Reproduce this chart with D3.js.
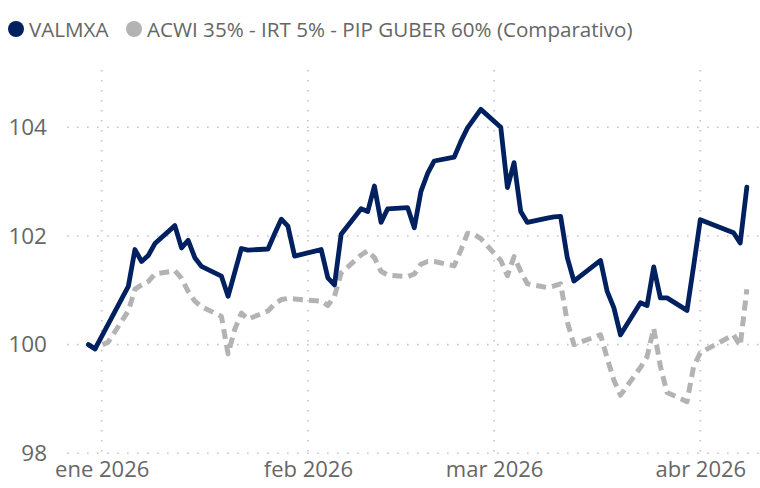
<!DOCTYPE html>
<html>
<head>
<meta charset="utf-8">
<script src="https://cdn.jsdelivr.net/npm/d3@7"></script>
<style>
  body { margin: 0; background: #fff; }
  svg { display: block; font-family: "Segoe UI", "Open Sans", sans-serif; }
  .tick text { fill: #666; }
</style>
</head>
<body>
<div class="chart"></div>
<script>
var svgWidth = 760;
var svgHeight = 488;

// business days shown on the chart
var dates = [
  "2025-12-30", "2025-12-31", "2026-01-02", "2026-01-05", "2026-01-06", "2026-01-07", "2026-01-08", "2026-01-09",
  "2026-01-12", "2026-01-13", "2026-01-14", "2026-01-15", "2026-01-16", "2026-01-19", "2026-01-20", "2026-01-21",
  "2026-01-22", "2026-01-23", "2026-01-26", "2026-01-27", "2026-01-28", "2026-01-29", "2026-01-30", "2026-02-03",
  "2026-02-04", "2026-02-05", "2026-02-06", "2026-02-09", "2026-02-10", "2026-02-11", "2026-02-12", "2026-02-13",
  "2026-02-16", "2026-02-17", "2026-02-18", "2026-02-19", "2026-02-20", "2026-02-23", "2026-02-24", "2026-02-25",
  "2026-02-26", "2026-02-27", "2026-03-02", "2026-03-03", "2026-03-04", "2026-03-05", "2026-03-06", "2026-03-09",
  "2026-03-10", "2026-03-11", "2026-03-12", "2026-03-13", "2026-03-17", "2026-03-18", "2026-03-19", "2026-03-20",
  "2026-03-23", "2026-03-24", "2026-03-25", "2026-03-26", "2026-03-27", "2026-03-30", "2026-03-31", "2026-04-01",
  "2026-04-06", "2026-04-07", "2026-04-08"
];

var valmxa = [
  100.00, 99.92, 100.38, 101.07, 101.75, 101.53, 101.64, 101.86,
  102.19, 101.78, 101.92, 101.60, 101.44, 101.26, 100.89, 101.33,
  101.77, 101.74, 101.76, 102.04, 102.31, 102.18, 101.63, 101.75,
  101.23, 101.10, 102.03, 102.50, 102.45, 102.92, 102.25, 102.50,
  102.52, 102.15, 102.82, 103.15, 103.38, 103.45, 103.74, 103.99,
  104.16, 104.33, 104.00, 102.89, 103.35, 102.45, 102.25, 102.33,
  102.35, 102.36, 101.60, 101.17, 101.55, 100.98, 100.68, 100.18,
  100.77, 100.72, 101.43, 100.86, 100.86, 100.63, 101.45, 102.30,
  102.06, 101.87, 102.90
];

var comparativo = [
  100.00, 99.93, 100.05, 100.62, 101.02, 101.10, 101.16, 101.30,
  101.36, 101.22, 100.98, 100.80, 100.70, 100.52, 99.83, 100.28,
  100.58, 100.47, 100.62, 100.75, 100.83, 100.85, 100.84, 100.80,
  100.72, 100.89, 101.32, 101.65, 101.73, 101.60, 101.35, 101.28,
  101.25, 101.30, 101.48, 101.53, 101.53, 101.45, 101.74, 102.05,
  102.03, 101.95, 101.55, 101.27, 101.62, 101.35, 101.12, 101.05,
  101.08, 101.12, 100.42, 100.00, 100.18, 99.75, 99.35, 99.07,
  99.58, 99.78, 100.30, 99.60, 99.12, 98.95, 99.60, 99.85,
  100.18, 99.98, 101.02
];

var seriesNames = ["VALMXA", "ACWI 35% - IRT 5% - PIP GUBER 60% (Comparativo)"];
var yTicks = [98, 100, 102, 104];
var monthLabels = ["ene 2026", "feb 2026", "mar 2026", "abr 2026"];

var parseDate = d3.timeParse("%Y-%m-%d");
var monthStarts = d3.timeMonth.range(new Date(2026, 0, 1), new Date(2026, 4, 1));

var plot = { left: 67, right: 760, top: 70, bottom: 456 };

var xScale = d3.scaleTime()
  .domain([new Date(2026, 0, 1), new Date(2026, 3, 1)])
  .range([101.7, 700.3]);

var yScale = d3.scaleLinear()
  .domain([98, 104])
  .range([453.3, 127.3]);

var svg = d3.select(".chart")
  .append("svg")
  .attr("width", svgWidth)
  .attr("height", svgHeight);

// dotted gridlines
var grid = svg.append("g")
  .attr("stroke", "#c4c4c4")
  .attr("stroke-width", 1.6)
  .attr("stroke-dasharray", "1.6,8.4");

grid.selectAll(".hgrid")
  .data(yTicks)
  .enter().append("line")
    .attr("x1", plot.left)
    .attr("x2", plot.right)
    .attr("y1", function(d) { return yScale(d); })
    .attr("y2", function(d) { return yScale(d); });

grid.selectAll(".vgrid")
  .data(monthStarts)
  .enter().append("line")
    .attr("x1", function(d) { return xScale(d); })
    .attr("x2", function(d) { return xScale(d); })
    .attr("y1", plot.top)
    .attr("y2", plot.bottom);

// axes (labels only)
var leftAxis = d3.axisLeft(yScale)
  .tickValues(yTicks)
  .tickSize(0)
  .tickPadding(0)
  .tickFormat(d3.format("d"));

svg.append("g")
  .attr("transform", "translate(47,0)")
  .call(leftAxis)
  .call(function(g) { g.select(".domain").remove(); })
  .selectAll("text")
    .attr("font-size", 22.5)
    .attr("font-family", "Segoe UI, Open Sans, sans-serif");

var bottomAxis = d3.axisBottom(xScale)
  .tickValues(monthStarts)
  .tickSize(0)
  .tickPadding(0)
  .tickFormat(function(d, i) { return monthLabels[i]; });

svg.append("g")
  .attr("transform", "translate(0,461)")
  .call(bottomAxis)
  .call(function(g) { g.select(".domain").remove(); })
  .selectAll("text")
    .attr("font-size", 22)
    .attr("font-family", "Segoe UI, Open Sans, sans-serif");

// lines
var line = d3.line()
  .x(function(d) { return xScale(d.date); })
  .y(function(d) { return yScale(d.value); });

var compData = dates.map(function(d, i) { return { date: parseDate(d), value: comparativo[i] }; });
var valData = dates.map(function(d, i) { return { date: parseDate(d), value: valmxa[i] }; });

svg.append("path")
  .datum(compData)
  .attr("d", line)
  .attr("fill", "none")
  .attr("stroke", "#b3b3b3")
  .attr("stroke-width", 5)
  .attr("stroke-dasharray", "10,6")
  .attr("stroke-linejoin", "round");

svg.append("path")
  .datum(valData)
  .attr("d", line)
  .attr("fill", "none")
  .attr("stroke", "#002060")
  .attr("stroke-width", 4.8)
  .attr("stroke-linejoin", "round")
  .attr("stroke-linecap", "round");

// legend
var legend = svg.append("g").attr("font-size", 20.6).attr("fill", "#666");
var colors = ["#002060", "#b3b3b3"];
var legendX = [16, 134];

seriesNames.forEach(function(name, i) {
  legend.append("circle")
    .attr("cx", legendX[i])
    .attr("cy", 29)
    .attr("r", 8)
    .attr("fill", colors[i]);
  legend.append("text")
    .attr("x", legendX[i] + 13)
    .attr("y", 36.5)
    .text(name);
});
</script>
</body>
</html>
